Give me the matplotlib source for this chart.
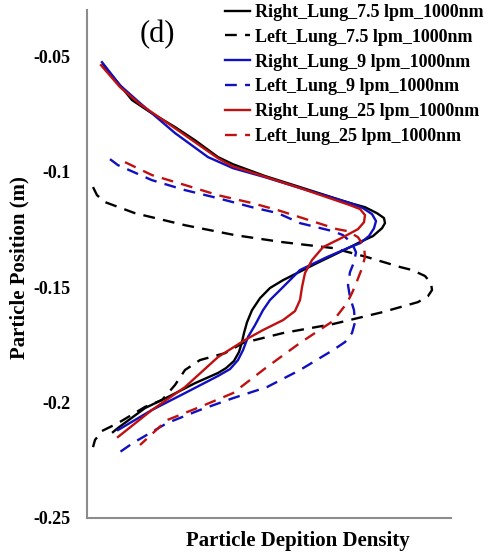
import matplotlib
matplotlib.use('Agg')
import matplotlib.pyplot as plt

plt.rcParams['font.family'] = 'Liberation Serif'

# deposition density (arbitrary units) and position along the airway (m)
right_75_x = [.0440, .0632, .0907, .1236, .1731, .2418, .2967, .3599, .4011, .4890, .5852, .7225, .7637,
              .7967, .8159, .8187, .8104, .7857, .7500, .7225, .6319, .5385, .5027, .4753, .4533, .4396,
              .4313, .4258, .4176, .4038, .3819, .3599, .2967, .2225, .1593, .0852, .0714]
right_75_y = [-0.0535, -0.0574, -0.0626, -0.0690, -0.0742, -0.0807, -0.0864, -0.0937, -0.0968, -0.1019,
              -0.1067, -0.1136, -0.1154, -0.1180, -0.1201, -0.1223, -0.1245, -0.1279, -0.1305, -0.1327,
              -0.1396, -0.1470, -0.1504, -0.1548, -0.1600, -0.1652, -0.1699, -0.1738, -0.1781, -0.1820,
              -0.1851, -0.1872, -0.1916, -0.1976, -0.2024, -0.2110, -0.2128]

left_75_x = [.0165, .0275, .0495, .1319, .2692, .4066, .5357, .6758, .7692, .8599, .8929, .9286, .9451,
             .9478, .9368, .9093, .8599, .8132, .6758, .5385, .4286, .3791, .3104, .2692, .2418, .2060,
             .1593, .0852, .0412, .0220, .0165]
left_75_y = [-0.1067, -0.1102, -0.1132, -0.1180, -0.1232, -0.1275, -0.1305, -0.1331, -0.1370, -0.1413,
             -0.1426, -0.1452, -0.1483, -0.1513, -0.1539, -0.1565, -0.1587, -0.1608, -0.1660, -0.1699,
             -0.1742, -0.1786, -0.1816, -0.1859, -0.1924, -0.1989, -0.2019, -0.2089, -0.2123, -0.2162,
             -0.2193]

right_9_x = [.0412, .0907, .1456, .2418, .3324, .4011, .4890, .5852, .7225, .7582, .7830, .7940, .7885,
             .7747, .7500, .7225, .6593, .5852, .5385, .5027, .4835, .4615, .4423, .4286, .4148, .3929,
             .3599, .2692, .1786, .0852]
right_9_y = [-0.0526, -0.0626, -0.0703, -0.0833, -0.0937, -0.0985, -0.1024, -0.1071, -0.1136, -0.1158,
             -0.1184, -0.1214, -0.1245, -0.1279, -0.1310, -0.1327, -0.1370, -0.1426, -0.1500, -0.1556,
             -0.1600, -0.1665, -0.1716, -0.1773, -0.1816, -0.1855, -0.1885, -0.1959, -0.2032, -0.2119]

left_9_x = [.0632, .0852, .1786, .2692, .3599, .4533, .5247, .5852, .6758, .7033, .7280, .7390, .7335,
            .7225, .7170, .7225, .7335, .7363, .7280, .7088, .6758, .5852, .4945, .4011, .3104, .2198,
            .1264, .0907]
left_9_y = [-0.0946, -0.0972, -0.1037, -0.1080, -0.1115, -0.1154, -0.1180, -0.1223, -0.1258, -0.1275,
            -0.1310, -0.1349, -0.1392, -0.1435, -0.1491, -0.1543, -0.1600, -0.1652, -0.1699, -0.1738,
            -0.1773, -0.1859, -0.1933, -0.1981, -0.2032, -0.2089, -0.2175, -0.2214]

right_25_x = [.0385, .0907, .1456, .2418, .3599, .3984, .5852, .7225, .7500, .7637, .7610, .7445, .7033,
              .6484, .6181, .5989, .5907, .5852, .5714, .5385, .4835, .4341, .3599, .2692, .1786, .0852]
right_25_y = [-0.0539, -0.0634, -0.0708, -0.0812, -0.0942, -0.0976, -0.1071, -0.1145, -0.1162, -0.1188,
              -0.1219, -0.1249, -0.1284, -0.1327, -0.1383, -0.1439, -0.1500, -0.1556, -0.1604, -0.1643,
              -0.1686, -0.1729, -0.1803, -0.1933, -0.2032, -0.2149]

left_25_x = [.1044, .1786, .2692, .3599, .4533, .5247, .6868, .7170, .7445, .7610, .7637, .7555, .7418,
             .7280, .7143, .6758, .5852, .4945, .4011, .3104, .2198, .1456]
left_25_y = [-0.0959, -0.1015, -0.1058, -0.1102, -0.1136, -0.1167, -0.1249, -0.1258, -0.1284, -0.1323,
             -0.1370, -0.1418, -0.1474, -0.1526, -0.1569, -0.1647, -0.1742, -0.1846, -0.1959, -0.2019,
             -0.2076, -0.2184]

y_ticks = [-0.25, -0.2, -0.15, -0.1, -0.05]
y_tick_labels = ['-0.25', '-0.2', '-0.15', '-0.1', '-0.05']

BLUE = '#1010c0'
RED = '#c01010'
DASH = (0, (5, 3.5))


def make_position_plot(name: str):
    fig = plt.figure(figsize=(4.9, 5.56), dpi=100)
    ax = fig.add_axes([87 / 490, 38 / 556, 364 / 490, 508 / 556])

    ax.plot(right_75_x, right_75_y, color='black', lw=1.7, label='Right_Lung_7.5 lpm_1000nm')
    ax.plot(left_75_x, left_75_y, color='black', lw=1.7, ls=DASH, label='Left_Lung_7.5 lpm_1000nm')
    ax.plot(right_9_x, right_9_y, color=BLUE, lw=1.7, label='Right_Lung_9 lpm_1000nm')
    ax.plot(left_9_x, left_9_y, color=BLUE, lw=1.7, ls=DASH, label='Left_Lung_9 lpm_1000nm')
    ax.plot(right_25_x, right_25_y, color=RED, lw=1.7, label='Right_Lung_25 lpm_1000nm')
    ax.plot(left_25_x, left_25_y, color=RED, lw=1.7, ls=DASH, label='Left_lung_25 lpm_1000nm')

    ax.set_xlim(0, 1)
    ax.set_ylim(-0.25, -0.03)
    ax.set_xticks([])
    ax.set_yticks(y_ticks)
    ax.set_yticklabels(y_tick_labels, fontsize=13, fontweight='bold')
    ax.tick_params(axis='y', length=0, pad=12)

    for side in ('top', 'right'):
        ax.spines[side].set_visible(False)
    for side in ('left', 'bottom'):
        ax.spines[side].set_color('#8c8c8c')
        ax.spines[side].set_linewidth(1.5)

    fig.text(19 / 490, 1 - 268 / 556, 'Particle Position (m)', fontsize=15, fontweight='bold',
             rotation=90, ha='center', va='center')
    fig.text(298 / 490, 1 - 541 / 556, 'Particle Depition Density', fontsize=15,
             fontweight='bold', ha='center', va='center')
    fig.text(157 / 490, 1 - 35 / 556, '(d)', fontsize=22, ha='center', va='center')

    ax.legend(loc='upper left', bbox_to_anchor=(225 / 490, 1 - 4 / 556), bbox_transform=fig.transFigure,
              frameon=False, prop={'weight': 'bold', 'size': 13}, handlelength=1.4,
              handletextpad=0.28, labelspacing=0.43, borderaxespad=0, borderpad=0.0)

    fig.savefig(name, dpi=100)
    plt.close(fig)


def main():
    make_position_plot('out.png')


if __name__ == "__main__":
    main()
